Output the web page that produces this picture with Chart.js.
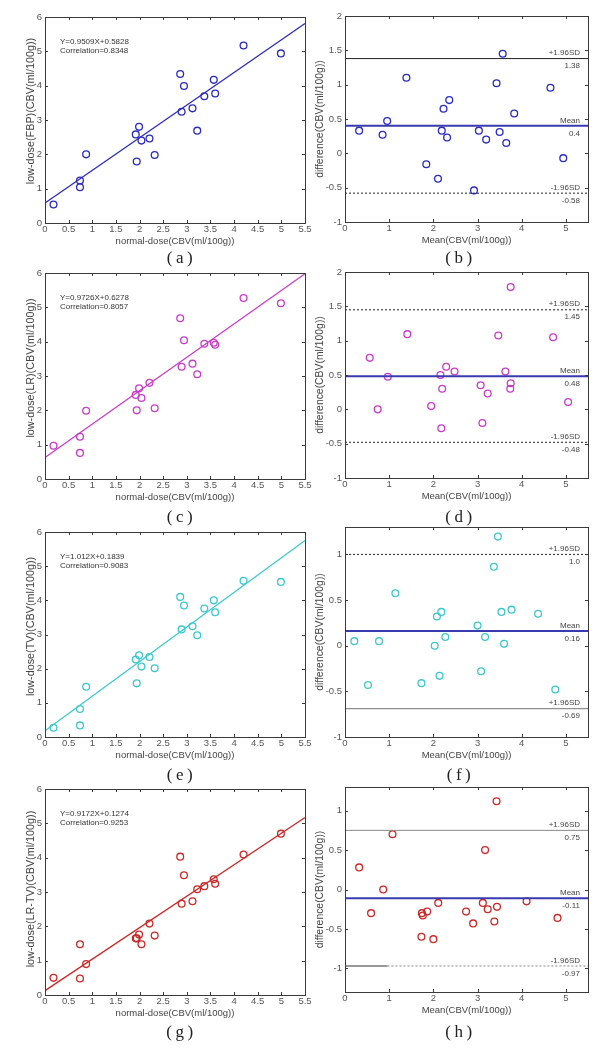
<!DOCTYPE html>
<html><head><meta charset="utf-8">
<script src="https://cdn.jsdelivr.net/npm/chart.js@4/dist/chart.umd.min.js"></script>
<style>
html,body{margin:0;padding:0;background:#fff;width:610px;height:1050px;overflow:hidden;position:relative;font-family:"Liberation Sans",Arial,sans-serif;}
.p{position:absolute;}
.lab{position:absolute;font-family:"Liberation Serif","DejaVu Serif",serif;font-size:17px;color:#222;letter-spacing:3.5px;width:60px;text-align:center;padding-left:3.5px;line-height:18px;}
</style></head><body>
<script>
// ---------- DATA ----------
const normalDose = [0.18,0.74,0.74,0.87,1.92,1.94,1.99,2.04,2.21,2.32,2.86,2.89,2.94,3.12,3.22,3.37,3.57,3.60,4.20,4.99];
const lowFBP  = [0.54,1.24,1.04,2.00,2.58,1.79,2.80,2.40,2.46,1.98,4.34,3.24,3.99,3.34,2.69,3.69,4.17,3.77,5.17,4.94];
const lowLR   = [0.97,1.23,0.76,1.99,2.45,2.00,2.64,2.36,2.80,2.06,4.68,3.27,4.04,3.36,3.05,3.94,3.97,3.91,5.27,5.12];
const lowTV   = [0.27,0.82,0.34,1.47,2.27,1.57,2.39,2.06,2.34,2.01,4.10,3.15,3.85,3.24,2.98,3.76,4.00,3.65,4.57,4.54];
const lowLRTV = [0.50,1.48,0.48,0.90,1.65,1.65,1.76,1.48,2.08,1.73,4.03,2.66,3.49,2.73,3.08,3.17,3.37,3.24,4.09,4.70];

const fitSlope     = [0.9509,0.9726,1.012,0.9172];
const fitIntercept = [0.5828,0.6278,0.1839,0.1274];
const fitCorr      = ["0.8348","0.8057","0.9083","0.9253"];
const fitSlopeText = ["0.9509","0.9726","1.012","0.9172"];
const fitIntText   = ["0.5828","0.6278","0.1839","0.1274"];

const baFBPmean  = [0.32,0.85,0.955,1.39,1.84,2.105,2.19,2.23,2.31,2.36,2.92,3.03,3.195,3.43,3.50,3.57,3.65,3.83,4.65,4.94];
const baFBPdiff  = [0.33,0.27,0.47,1.10,-0.16,-0.37,0.33,0.65,0.23,0.775,-0.54,0.33,0.20,1.02,0.31,1.45,0.15,0.58,0.955,-0.07];
const baLRmean   = [0.56,0.74,0.97,1.41,1.95,2.16,2.18,2.20,2.29,2.48,3.07,3.11,3.23,3.47,3.63,3.74,3.75,3.75,4.71,5.05];
const baLRdiff   = [0.75,0.0,0.475,1.095,0.047,0.50,-0.275,0.30,0.62,0.55,0.35,-0.20,0.23,1.075,0.55,0.30,0.38,1.78,1.05,0.105];
const baTVmean   = [0.21,0.52,0.77,1.14,1.73,2.03,2.08,2.14,2.18,2.27,3.00,3.08,3.17,3.37,3.46,3.54,3.60,3.77,4.37,4.76];
const baTVdiff   = [0.05,-0.43,0.05,0.575,-0.41,0.0,0.32,-0.33,0.37,0.095,0.22,-0.28,0.095,0.865,1.195,0.37,0.02,0.395,0.35,-0.48];
const baLRTVmean = [0.32,0.59,0.865,1.075,1.73,1.74,1.76,1.86,2.00,2.11,2.74,2.90,3.12,3.17,3.23,3.38,3.43,3.44,4.11,4.81];
const baLRTVdiff = [0.28,-0.30,0.0,0.70,-0.60,-0.30,-0.33,-0.28,-0.63,-0.17,-0.28,-0.43,-0.17,0.50,-0.25,-0.405,1.12,-0.22,-0.15,-0.36];

const baUpper = [1.38,1.45,1.0,0.75];
const baMean  = [0.4,0.48,0.16,-0.11];
const baLower = [-0.58,-0.48,-0.69,-0.97];
const baUpperText = ["1.38","1.45","1.0","0.75"];
const baMeanText  = ["0.4","0.48","0.16","-0.11"];
const baLowerText = ["-0.58","-0.48","-0.69","-0.97"];
const baUpperName = ["+1.96SD","+1.96SD","+1.96SD","+1.96SD"];
const baLowerName = ["-1.96SD","-1.96SD","+1.96SD","-1.96SD"];
const lrtvLowerSolidEnd = 0.96;

const yTitles = ["low-dose(FBP)(CBV(ml/100g))","low-dose(LR)(CBV(ml/100g))","low-dose(TV)(CBV(ml/100g))","low-dose(LR-TV)(CBV(ml/100g))"];
const xTitleLeft = "normal-dose(CBV(ml/100g))";
const xTitleRight = "Mean(CBV(ml/100g))";
const yTitleRight = "difference(CBV(ml/100g))";
const panelNames = [["(a)","(b)"],["(c)","(d)"],["(e)","(f)"],["(g)","(h)"]];
const lowSeries = [lowFBP,lowLR,lowTV,lowLRTV];
const baMeans = [baFBPmean,baLRmean,baTVmean,baLRTVmean];
const baDiffs = [baFBPdiff,baLRdiff,baTVdiff,baLRTVdiff];

// ---------- STYLE / LAYOUT ----------
const colors = ['#2a2ac0','#c83cc8','#3cc8cc','#cc2828'];
const meanColor = '#3a3ab0';
const leftArea  = [[17,223],[273,479],[532,737],[789,995]];
const rightArea = [[16,222],[272,478],[527,737],[787,992]];
const rightRange = [[-1,2],[-1,2],[-1,1.3],[-1.3,1.3]];
const leftTitleShift = [-9,-8,-8,-3];
const labY = [258,517,775,1032];
const FAM = '"Liberation Sans", Arial, sans-serif';

const boxPlugin = {
  id:'boxTicks',
  afterDatasetsDraw(chart){
    const {ctx, chartArea:a, scales:{x,y}} = chart;
    const o = chart.options.plugins.annot || {};
    ctx.save();
    ctx.strokeStyle='#3a3a3a'; ctx.lineWidth=1;
    ctx.beginPath();
    x.ticks.forEach(t=>{const px=Math.round(x.getPixelForValue(t.value))+0.5;
      ctx.moveTo(px,a.bottom);ctx.lineTo(px,a.bottom-3);ctx.moveTo(px,a.top);ctx.lineTo(px,a.top+3);});
    y.ticks.forEach(t=>{const py=Math.round(y.getPixelForValue(t.value))+0.5;
      ctx.moveTo(a.left,py);ctx.lineTo(a.left+3,py);ctx.moveTo(a.right,py);ctx.lineTo(a.right-3,py);});
    ctx.stroke();
    ctx.strokeRect(Math.round(a.left)+0.5,Math.round(a.top)+0.5,Math.round(a.right-a.left),Math.round(a.bottom-a.top));
    ctx.fillStyle='#333';
    ctx.font='8px '+FAM;
    if(o.eq){
      ctx.textAlign='left';ctx.textBaseline='middle';
      o.eq.forEach((s,i)=>ctx.fillText(s,a.left+15,a.top+24.5+i*9.3));
    }
    if(o.refs){
      ctx.textAlign='right';ctx.textBaseline='middle';ctx.fillStyle='#444';
      o.refs.forEach(r=>{const py=y.getPixelForValue(r.v);
        ctx.fillText(r.top,a.right-8,py-5.5);ctx.fillText(r.bottom,a.right-8,py+7.5);});
    }
    if(o.ytitle){
      const t=o.ytitle;
      ctx.save();
      ctx.translate(t.x,(a.top+a.bottom)/2+t.dy);
      ctx.rotate(-Math.PI/2);
      ctx.textAlign='center';ctx.textBaseline='middle';ctx.fillStyle='#444';
      ctx.font=t.size+'px '+FAM;
      ctx.fillText(t.text,0,0);
      ctx.restore();
    }
    ctx.restore();
  }
};

function fmt(v){return String(+(+v).toFixed(2));}

function axis(min,max,step,title,isX){
  return {type:'linear',min,max,
    ticks:{stepSize:step,includeBounds:false,autoSkip:false,maxRotation:0,color:'#555',
      font:{size:9.5,family:FAM},padding:isX?1:3,callback:fmt},
    grid:{display:false,drawTicks:false},border:{display:false},
    title:{display:isX,text:title,color:'#444',font:{size:9.5,family:FAM},
      padding:{top:0,bottom:6}},
    afterFit:s=>{ if(isX) s.height=30; else s.width=45; }
  };
}

function place(left,top,w,h){
  const d=document.createElement('div');d.className='p';
  d.style.left=left+'px';d.style.top=top+'px';d.style.width=w+'px';d.style.height=h+'px';
  const c=document.createElement('canvas');d.appendChild(c);document.body.appendChild(d);return c;
}

for(let r=0;r<4;r++){
  // ---- regression panel ----
  const [lt,lb]=leftArea[r];
  const c1=place(0,lt-10,320,lb-lt+40);
  const pts=normalDose.map((x,i)=>({x,y:lowSeries[r][i]}));
  const fit=[0,5.5].map(x=>({x,y:fitSlope[r]*x+fitIntercept[r]}));
  new Chart(c1,{type:'scatter',
    data:{datasets:[
      {data:fit,showLine:true,pointRadius:0,borderColor:colors[r],borderWidth:1.3,fill:false},
      {data:pts,pointStyle:'circle',pointRadius:3.4,pointBorderWidth:1.3,borderColor:colors[r],backgroundColor:'rgba(0,0,0,0)'}
    ]},
    options:{responsive:true,maintainAspectRatio:false,animation:false,
      layout:{padding:{left:0,right:15,top:10,bottom:0}},
      plugins:{legend:{display:false},tooltip:{enabled:false},
        annot:{eq:['Y='+fitSlopeText[r]+'X+'+fitIntText[r],'Correlation='+fitCorr[r]],
               ytitle:{text:yTitles[r],x:31,dy:leftTitleShift[r],size:10.8}}},
      scales:{x:axis(0,5.5,0.5,xTitleLeft,true),
              y:axis(0,6,1,'',false)}},
    plugins:[boxPlugin]});

  // ---- Bland-Altman panel ----
  const [rt,rb]=rightArea[r];
  const c2=place(300,rt-10,310,rb-rt+40);
  const bp=baMeans[r].map((x,i)=>({x,y:baDiffs[r][i]}));
  const hl=(v,x0=0,x1=5.5)=>[{x:x0,y:v},{x:x1,y:v}];
  const lineStyles=[
    {up:{c:'#222',d:[]},lo:{c:'#222',d:[2,2]}},
    {up:{c:'#222',d:[2,2]},lo:{c:'#222',d:[2,2]}},
    {up:{c:'#222',d:[2,2]},lo:{c:'#777',d:[]}},
    {up:{c:'#888',d:[]},lo:{c:'#999',d:[2,2]}}
  ][r];
  const ds=[
    {data:hl(baUpper[r]),showLine:true,pointRadius:0,borderColor:lineStyles.up.c,borderDash:lineStyles.up.d,borderWidth:1},
    {data:hl(baMean[r]),showLine:true,pointRadius:0,borderColor:meanColor,borderWidth:2},
  ];
  if(r===3){
    ds.push({data:hl(baLower[r],0,lrtvLowerSolidEnd),showLine:true,pointRadius:0,borderColor:'#777',borderWidth:1.5});
    ds.push({data:hl(baLower[r],lrtvLowerSolidEnd,5.5),showLine:true,pointRadius:0,borderColor:'#999',borderDash:[2,2],borderWidth:1.2});
  } else {
    ds.push({data:hl(baLower[r]),showLine:true,pointRadius:0,borderColor:lineStyles.lo.c,borderDash:lineStyles.lo.d,borderWidth:1});
  }
  ds.push({data:bp,pointStyle:'circle',pointRadius:3.4,pointBorderWidth:1.3,borderColor:colors[r],backgroundColor:'rgba(0,0,0,0)'});
  new Chart(c2,{type:'scatter',data:{datasets:ds},
    options:{responsive:true,maintainAspectRatio:false,animation:false,
      layout:{padding:{left:0,right:22,top:10,bottom:0}},
      plugins:{legend:{display:false},tooltip:{enabled:false},
        annot:{refs:[{v:baUpper[r],top:baUpperName[r],bottom:baUpperText[r]},
                     {v:baMean[r],top:'Mean',bottom:baMeanText[r]},
                     {v:baLower[r],top:baLowerName[r],bottom:baLowerText[r]}],
               ytitle:{text:yTitleRight,x:20,dy:0,size:10.4}}},
      scales:{x:axis(0,5.5,1,xTitleRight,true),
              y:axis(rightRange[r][0],rightRange[r][1],0.5,'',false)}},
    plugins:[boxPlugin]});

  // ---- panel labels ----
  [[178,panelNames[r][0]],[457,panelNames[r][1]]].forEach(([cx,t])=>{
    const d=document.createElement('div');d.className='lab';d.textContent=t;
    d.style.left=(cx-30)+'px';d.style.top=(labY[r]-9)+'px';document.body.appendChild(d);
  });
}
</script>
</body></html>
